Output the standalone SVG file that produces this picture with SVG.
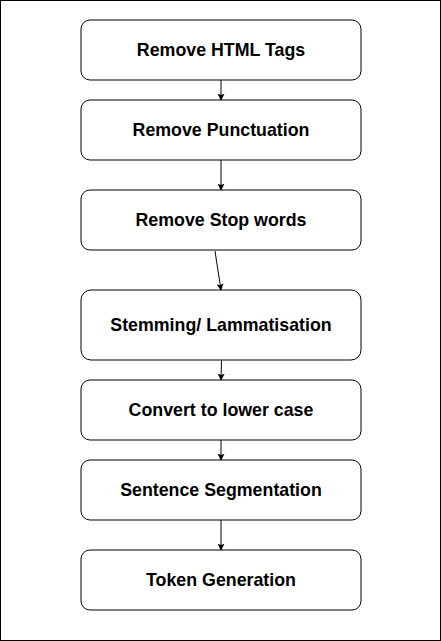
<svg xmlns="http://www.w3.org/2000/svg" width="441" height="641" viewBox="0 0 441 641">
<defs>
<style>
.box{fill:#fff;stroke:#000;stroke-width:1}
.lbl{font-family:"Liberation Sans",Arial,sans-serif;font-weight:bold;font-size:17.8px;fill:#000;text-anchor:middle}
.con{stroke:#000;stroke-width:1;fill:none;marker-end:url(#ah)}
</style>
<marker id="ah" viewBox="0 0 10 10" refX="9" refY="5" markerWidth="7" markerHeight="7" markerUnits="userSpaceOnUse" orient="auto">
<path d="M0,0 L10,5 L0,10 L2,5 Z" fill="#000"/>
</marker>
</defs>
<rect x="0.5" y="0.5" width="440" height="640" fill="#fff" stroke="#000" stroke-width="1"/>
<g id="connectors">
<line class="con" x1="221" y1="80" x2="221" y2="100"/>
<line class="con" x1="221" y1="160" x2="221" y2="190"/>
<line class="con" x1="215" y1="251" x2="221" y2="290"/>
<line class="con" x1="221.5" y1="360" x2="221" y2="380"/>
<line class="con" x1="221" y1="440" x2="221" y2="460"/>
<line class="con" x1="221" y1="520" x2="221" y2="550"/>
</g>
<g id="n1"><rect class="box" x="81" y="20" width="280" height="60" rx="9"/><text class="lbl" x="221" y="56">Remove HTML Tags</text></g>
<g id="n2"><rect class="box" x="81" y="100" width="280" height="60" rx="9"/><text class="lbl" x="221" y="136">Remove Punctuation</text></g>
<g id="n3"><rect class="box" x="81" y="190" width="280" height="60" rx="9"/><text class="lbl" x="221" y="226">Remove Stop words</text></g>
<g id="n4"><rect class="box" x="81" y="290" width="280" height="70" rx="10"/><text class="lbl" x="221" y="331">Stemming/ Lammatisation</text></g>
<g id="n5"><rect class="box" x="81" y="380" width="280" height="60" rx="9"/><text class="lbl" x="221" y="416">Convert to lower case</text></g>
<g id="n6"><rect class="box" x="81" y="460" width="280" height="60" rx="9"/><text class="lbl" x="221" y="496">Sentence Segmentation</text></g>
<g id="n7"><rect class="box" x="81" y="550" width="280" height="60" rx="9"/><text class="lbl" x="221" y="586">Token Generation</text></g>
</svg>
